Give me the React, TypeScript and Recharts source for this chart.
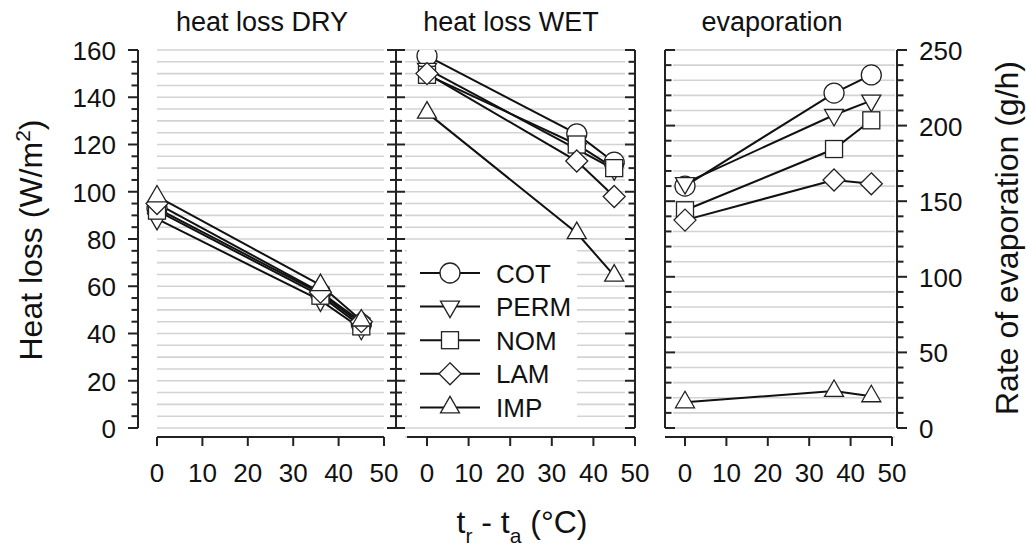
import React from 'react';
import { LineChart, Line, XAxis, YAxis, CartesianGrid, ReferenceLine, Legend } from 'recharts';

const W = 1027;
const H = 550;
const FONT = '"Liberation Sans", Arial, Helvetica, sans-serif';
const PLOT_TOP = 50;
const PLOT_BOTTOM = 437;

// series, in drawing / legend order
const seriesNames = ['COT', 'PERM', 'NOM', 'LAM', 'IMP'];
const markerKinds = ['circle', 'triangleDown', 'square', 'diamond', 'triangleUp'];

// tr - ta (°C)
const tempDiff = [0, 36, 45];

// heat loss DRY (W/m2)
const dryCOT = [93, 57, 44];
const dryPERM = [88.5, 54, 42];
const dryNOM = [92, 56, 43];
const dryLAM = [95, 57.5, 45];
const dryIMP = [98, 60.5, 45.5];

// heat loss WET (W/m2)
const wetCOT = [157.5, 124.5, 112.5];
const wetPERM = [152, 118, 109.5];
const wetNOM = [149.5, 120, 110];
const wetLAM = [150, 113, 98];
const wetIMP = [133.5, 82.5, 64.5];

// rate of evaporation (g/h)
const evapCOT = [160, 221.5, 233.5];
const evapPERM = [162, 207, 216.5];
const evapNOM = [144, 184.5, 203.5];
const evapLAM = [137.5, 164, 161.5];
const evapIMP = [17, 24.5, 21];

// axes
const xTicks = [0, 10, 20, 30, 40, 50];
const heatTicks = Array.from({ length: 33 }, (_, i) => i * 5); // minor every 5, labels every 20
const evapTicks = Array.from({ length: 26 }, (_, i) => i * 10); // minor every 10, labels every 50
const panelTitles = ['heat loss DRY', 'heat loss WET', 'evaporation'];

const buildRows = (cols: number[][]) =>
  tempDiff.map((t, i) => {
    const row: Record<string, number> = { t };
    seriesNames.forEach((name, k) => {
      row[name] = cols[k][i];
    });
    return row;
  });

const dryRows = buildRows([dryCOT, dryPERM, dryNOM, dryLAM, dryIMP]);
const wetRows = buildRows([wetCOT, wetPERM, wetNOM, wetLAM, wetIMP]);
const evapRows = buildRows([evapCOT, evapPERM, evapNOM, evapLAM, evapIMP]);

const Marker = ({ kind, cx, cy }: { kind: string; cx: number; cy: number }) => {
  const st = { fill: '#fff', stroke: '#222', strokeWidth: 1.3 };
  if (kind === 'circle') return <circle cx={cx} cy={cy} r={10} {...st} />;
  if (kind === 'square') return <rect x={cx - 8.5} y={cy - 8.5} width={17} height={17} {...st} />;
  if (kind === 'diamond')
    return <polygon points={`${cx},${cy - 11} ${cx + 11},${cy} ${cx},${cy + 11} ${cx - 11},${cy}`} {...st} />;
  if (kind === 'triangleUp')
    return <polygon points={`${cx},${cy - 11} ${cx + 9.5},${cy + 5.5} ${cx - 9.5},${cy + 5.5}`} {...st} />;
  return <polygon points={`${cx},${cy + 11} ${cx + 9.5},${cy - 5.5} ${cx - 9.5},${cy - 5.5}`} {...st} />;
};

// y tick: mark goes 'left', 'right' or 'both' from the axis; optional label
const makeYTick = (dir: 'left' | 'right' | 'both', majorStep: number, label?: 'end' | 'start') => (props: any) => {
  const { x, y, payload } = props;
  const v = payload.value;
  const major = v % majorStep === 0;
  const len = major ? 10 : 6.5;
  let x1 = x;
  let x2 = x;
  if (dir === 'left') x1 = x - len;
  if (dir === 'right') x2 = x + len;
  if (dir === 'both') {
    x1 = x - (major ? 9 : 6);
    x2 = x + (major ? 9 : 6);
  }
  return (
    <g>
      <line x1={x1} x2={x2} y1={y} y2={y} stroke="#222" strokeWidth={2} />
      {label && major && (
        <text
          x={label === 'end' ? x - 22 : x + 22}
          y={y + 10}
          textAnchor={label}
          fontSize={26}
          fontFamily={FONT}
          fill="#111"
        >
          {v}
        </text>
      )}
    </g>
  );
};

const XTick = (props: any) => {
  const { x, y, payload } = props;
  return (
    <g>
      <line x1={x} x2={x} y1={y} y2={y + 9} stroke="#222" strokeWidth={2} />
      <text x={x} y={y + 45} textAnchor="middle" fontSize={26} fontFamily={FONT} fill="#111">
        {payload.value}
      </text>
    </g>
  );
};

const LegendBox = () => (
  <svg width={170} height={181}>
    {seriesNames.map((name, i) => {
      const cy = 28 + i * 33.6;
      return (
        <g key={name}>
          <line x1={13} x2={73} y1={cy} y2={cy} stroke="#111" strokeWidth={2} />
          <Marker kind={markerKinds[i]} cx={43} cy={cy} />
          <text x={89} y={cy + 9.5} fontSize={26} fontFamily={FONT} fill="#111">
            {name}
          </text>
        </g>
      );
    })}
  </svg>
);

type AxisCfg = { id: string | number; orientation: 'left' | 'right'; tick: (p: any) => React.ReactElement };

type PanelProps = {
  rows: Record<string, number>[];
  left: number;
  right: number;
  xDomain: [number, number];
  yDomain: [number, number];
  yTicks: number[];
  yTop: number;
  xLineStart: number;
  gridX: number;
  gridW: number;
  axes: AxisCfg[];
  axisLinesAt: number[];
  legend?: boolean;
};

// axes get a 1px width (a 0 size axis is not drawn), margins make up for it
const Panel = ({ rows, left, right, xDomain, yDomain, yTicks, yTop, xLineStart, gridX, gridW, axes, axisLinesAt, legend }: PanelProps) => {
  const hasLeft = axes.some((a) => a.orientation === 'left');
  const hasRight = axes.some((a) => a.orientation === 'right');
  return (
    <div style={{ position: 'absolute', left: 0, top: 0 }}>
      <LineChart
        width={W}
        height={H}
        data={rows}
        margin={{
          top: PLOT_TOP,
          bottom: H - PLOT_BOTTOM - 1,
          left: left - (hasLeft ? 1 : 0),
          right: W - right - (hasRight ? 1 : 0),
        }}
      >
        <CartesianGrid vertical={false} stroke="#d3d3d3" strokeWidth={1.6} x={gridX} width={gridW} />
        <XAxis
          type="number"
          dataKey="t"
          domain={xDomain}
          ticks={xTicks}
          interval={0}
          height={1}
          tickSize={0}
          tickMargin={0}
          axisLine={false}
          tickLine={false}
          tick={XTick}
          allowDataOverflow
        />
        {axes.map((a) => (
          <YAxis
            key={String(a.id)}
            yAxisId={a.id}
            orientation={a.orientation}
            type="number"
            domain={yDomain}
            ticks={yTicks}
            interval={0}
            width={1}
            tickSize={0}
            tickMargin={0}
            axisLine={false}
            tickLine={false}
            tick={a.tick}
            allowDataOverflow
          />
        ))}
        {axisLinesAt.map((xv) => (
          <ReferenceLine
            key={`ax-${xv}`}
            segment={[
              { x: xv, y: 0 },
              { x: xv, y: yTop },
            ]}
            stroke="#222"
            strokeWidth={2}
            ifOverflow="visible"
          />
        ))}
        <ReferenceLine
          segment={[
            { x: xLineStart, y: yDomain[0] },
            { x: 50, y: yDomain[0] },
          ]}
          stroke="#222"
          strokeWidth={2}
          ifOverflow="visible"
        />
        {seriesNames.map((name, k) => (
          <Line
            key={name}
            dataKey={name}
            name={name}
            type="linear"
            stroke="#111"
            strokeWidth={2}
            isAnimationActive={false}
            activeDot={false}
            dot={(p: any) => <Marker key={`${name}-${p.index}`} kind={markerKinds[k]} cx={p.cx} cy={p.cy} />}
          />
        ))}
        {legend && (
          <Legend
            layout="vertical"
            align="center"
            verticalAlign="middle"
            content={() => <LegendBox />}
            wrapperStyle={{ position: 'absolute', left: 407, top: 245, width: 170, height: 181, background: '#fff' }}
          />
        )}
      </LineChart>
    </div>
  );
};

const titleX = [262, 511, 772];

export default function App() {
  return (
    <div style={{ position: 'absolute', left: 0, top: 0, width: W, height: H, background: '#fff' }}>
      <Panel
        rows={dryRows}
        left={138}
        right={396}
        xDomain={[-4.185, 52.64]}
        yDomain={[-3.81, 160]}
        yTicks={heatTicks}
        yTop={160}
        xLineStart={0}
        gridX={157}
        gridW={227}
        axes={[
          { id: 0, orientation: 'left', tick: makeYTick('left', 20, 'end') },
          { id: 'r', orientation: 'right', tick: makeYTick('both', 20) },
        ]}
        axisLinesAt={[-4.185, 52.64]}
      />
      <Panel
        rows={wetRows}
        left={396}
        right={635}
        xDomain={[-7.452, 50]}
        yDomain={[-3.81, 160]}
        yTicks={heatTicks}
        yTop={160}
        xLineStart={-4.8}
        gridX={405}
        gridW={220}
        axes={[{ id: 0, orientation: 'right', tick: makeYTick('left', 20) }]}
        axisLinesAt={[50]}
        legend
      />
      <Panel
        rows={evapRows}
        left={665}
        right={897}
        xDomain={[-4.831, 51.208]}
        yDomain={[-5.95, 250]}
        yTicks={evapTicks}
        yTop={250}
        xLineStart={-4.831}
        gridX={673}
        gridW={222}
        axes={[
          { id: 0, orientation: 'left', tick: makeYTick('right', 50) },
          { id: 'r', orientation: 'right', tick: makeYTick('right', 50, 'start') },
        ]}
        axisLinesAt={[-4.831, 51.208]}
      />
      <svg width={W} height={H} style={{ position: 'absolute', left: 0, top: 0, pointerEvents: 'none' }}>
        {panelTitles.map((t, i) => (
          <text key={t} x={titleX[i]} y={31} textAnchor="middle" fontSize={27} fontFamily={FONT} fill="#111">
            {t}
          </text>
        ))}
        <text transform="translate(42,240) rotate(-90)" textAnchor="middle" fontSize={32} fontFamily={FONT} fill="#111">
          Heat loss (W/m
          <tspan dy={-12} fontSize={21}>
            2
          </tspan>
          <tspan dy={12}>)</tspan>
        </text>
        <text transform="translate(1018,238) rotate(-90)" textAnchor="middle" fontSize={32} fontFamily={FONT} fill="#111">
          Rate of evaporation (g/h)
        </text>
        <text x={522} y={533} textAnchor="middle" fontSize={32} fontFamily={FONT} fill="#111">
          t
          <tspan dy={10} fontSize={21}>
            r
          </tspan>
          <tspan dy={-10}> - t</tspan>
          <tspan dy={10} fontSize={21}>
            a
          </tspan>
          <tspan dy={-10}> (°C)</tspan>
        </text>
      </svg>
    </div>
  );
}
